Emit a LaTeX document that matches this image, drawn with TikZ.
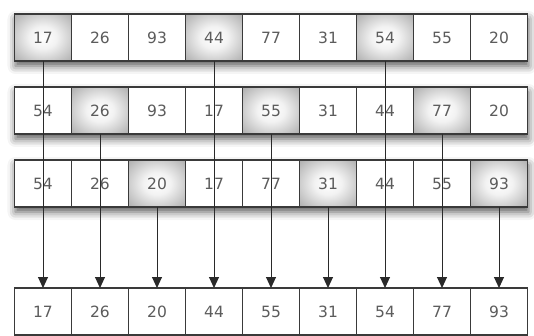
\documentclass[tikz,border=0pt]{standalone}
\usepackage{fontspec}
\setmainfont{DejaVu Sans}
\usetikzlibrary{shadows.blur,arrows.meta}
\definecolor{txt}{HTML}{5C5C5C}
\definecolor{edge}{HTML}{3A3A3A}
\definecolor{lin}{HTML}{2A2A2A}
\pgfdeclareradialshading{softglow}{\pgfpoint{0bp}{0bp}}{color(0bp)=(white); color(12bp)=(white!95!black); color(32bp)=(black!28); color(50bp)=(black!48); color(75bp)=(black!55)}
\tikzset{
  cell/.style={draw=edge, line width=1.4pt, fill=white, minimum width=57pt, minimum height=47pt,
    inner sep=0pt, outer sep=0pt, text=txt, font=\fontsize{15.5}{15.5}\selectfont},
  hot/.style={cell, shading=softglow},
  rowshadow/.style={blur shadow={shadow xshift=1pt, shadow yshift=-5pt, shadow blur radius=8pt, shadow opacity=65}},
  link/.style={draw=lin, line width=1pt, -{Triangle[length=11pt,width=10pt]}}
}
\begin{document}
\begin{tikzpicture}[x=1pt,y=1pt]
\useasboundingbox (0,0) rectangle (534,-336);
% row shadows
\foreach \t in {14,87,160}{
  \path[rowshadow] (14.5,-\t) rectangle (527.5,-\t-47);
}
% rows
\foreach \v [count=\i] in {17,26,93,44,77,31,54,55,20}{
  \pgfmathsetmacro{\cx}{14.5+57*(\i-0.5)}
  \ifnum\i=1 \node[hot] (r1c\i) at (\cx,-37.5) {\v};
  \else\ifnum\i=4 \node[hot] (r1c\i) at (\cx,-37.5) {\v};
  \else\ifnum\i=7 \node[hot] (r1c\i) at (\cx,-37.5) {\v};
  \else \node[cell] (r1c\i) at (\cx,-37.5) {\v};
  \fi\fi\fi
}
\foreach \v [count=\i] in {54,26,93,17,55,31,44,77,20}{
  \pgfmathsetmacro{\cx}{14.5+57*(\i-0.5)}
  \ifnum\i=2 \node[hot] (r2c\i) at (\cx,-110.5) {\v};
  \else\ifnum\i=5 \node[hot] (r2c\i) at (\cx,-110.5) {\v};
  \else\ifnum\i=8 \node[hot] (r2c\i) at (\cx,-110.5) {\v};
  \else \node[cell] (r2c\i) at (\cx,-110.5) {\v};
  \fi\fi\fi
}
\foreach \v [count=\i] in {54,26,20,17,77,31,44,55,93}{
  \pgfmathsetmacro{\cx}{14.5+57*(\i-0.5)}
  \ifnum\i=3 \node[hot] (r3c\i) at (\cx,-183.5) {\v};
  \else\ifnum\i=6 \node[hot] (r3c\i) at (\cx,-183.5) {\v};
  \else\ifnum\i=9 \node[hot] (r3c\i) at (\cx,-183.5) {\v};
  \else \node[cell] (r3c\i) at (\cx,-183.5) {\v};
  \fi\fi\fi
}
\foreach \v [count=\i] in {17,26,20,44,55,31,54,77,93}{
  \pgfmathsetmacro{\cx}{14.5+57*(\i-0.5)}
  \node[cell] (r4c\i) at (\cx,-311.5) {\v};
}
% arrows
\foreach \c in {1,4,7}{ \draw[link] (r1c\c.south) -- (r4c\c.north); }
\foreach \c in {2,5,8}{ \draw[link] (r2c\c.south) -- (r4c\c.north); }
\foreach \c in {3,6,9}{ \draw[link] (r3c\c.south) -- (r4c\c.north); }
\end{tikzpicture}
\end{document}
